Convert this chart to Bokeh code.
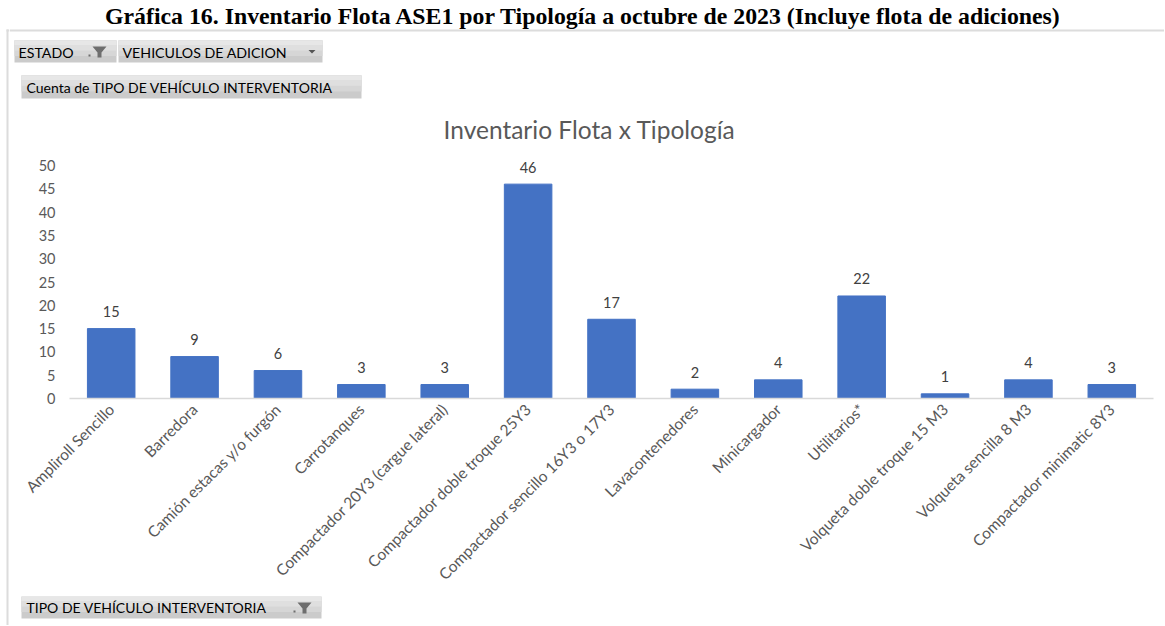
import math
from bokeh.plotting import figure
from bokeh.layouts import row, column
from bokeh.models import (ColumnDataSource, FixedTicker, LabelSet, Range1d, FactorRange)
from bokeh.core.properties import value
from bokeh.embed import file_html
from bokeh.resources import INLINE

# ---- data ----
categories = ["Ampliroll Sencillo", "Barredora", "Camión estacas y/o furgón",
              "Carrotanques", "Compactador 20Y3 (cargue lateral)",
              "Compactador doble troque 25Y3", "Compactador sencillo 16Y3 o 17Y3",
              "Lavacontenedores", "Minicargador", "Utilitarios*",
              "Volqueta doble troque 15 M3", "Volqueta sencilla 8 M3",
              "Compactador minimatic 8Y3"]
counts = [15, 9, 6, 3, 3, 46, 17, 2, 4, 22, 1, 4, 3]
y_ticks = [0, 5, 10, 15, 20, 25, 30, 35, 40, 45, 50]

main_title = "Gráfica 16. Inventario Flota ASE1 por Tipología a octubre de 2023 (Incluye flota de adiciones)"
chart_title = "Inventario Flota x Tipología"
filter1 = "ESTADO"
filter2 = "VEHICULOS DE  ADICION"
value_btn = "Cuenta de TIPO DE VEHÍCULO INTERVENTORIA"
axis_btn = "TIPO DE VEHÍCULO INTERVENTORIA"

# ---- layout geometry (page pixels) ----
LW = 9            # left strip width
RIGHT = 1164      # right edge of page content
TOTAL_H = 625
T_H = 150         # header height
B_H = 29          # footer height
M_H = TOTAL_H - T_H - B_H
FL, FR, FB = 69, 1153, 398    # chart frame left/right/bottom
PX_PER_UNIT = 4.66
BORDER = "#dcdcdc"


def blank(width, height, x0, x1, y0, y1):
    f = figure(width=width, height=height, x_range=Range1d(x0, x1),
               y_range=Range1d(y1, y0), output_backend="svg", toolbar_location=None,
               x_axis_type=None, y_axis_type=None, min_border=0)
    f.frame_align = False
    f.outline_line_color = None
    f.xgrid.visible = False
    f.ygrid.visible = False
    f.background_fill_color = "white"
    f.border_fill_color = "white"
    return f


def button(f, x0, y0, x1, y1):
    h = y1 - y0
    f.quad(left=[x0], right=[x1], top=[y0], bottom=[y1], fill_color="#cbcbcb", line_color=None)
    f.quad(left=[x0], right=[x1], top=[y0], bottom=[y0 + h * 0.7], fill_color="#d6d6d6", line_color=None)
    f.quad(left=[x0], right=[x1], top=[y0], bottom=[y0 + h * 0.45], fill_color="#dfdfdf", line_color=None)
    f.quad(left=[x0], right=[x1], top=[y0], bottom=[y0 + h * 0.2], fill_color="#e7e7e7", line_color=None)


def txt(f, x, y, t, size, color, align="left", font="Lato", style="normal"):
    f.text(x=[x], y=[y], text=[t], text_font=value(font), text_font_size=size,
           text_color=color, text_align=align, text_baseline="middle",
           text_font_style=style)


def funnel(f, cx, cy):
    f.patch(x=[cx - 7, cx + 7, cx + 2, cx + 2, cx - 2, cx - 2],
            y=[cy - 5, cy - 5, cy + 1, cy + 6, cy + 6, cy + 1],
            fill_color="#6e6e6e", line_color=None)
    f.quad(left=[cx - 11], right=[cx - 9], top=[cy + 3], bottom=[cy + 5],
           fill_color="#6e6e6e", line_color=None)


# ---- left strip with frame line ----
L = blank(LW, TOTAL_H, 0, LW, 0, TOTAL_H)
L.quad(left=[6], right=[8], top=[29], bottom=[TOTAL_H], fill_color=BORDER, line_color=None)
L.quad(left=[6], right=[LW], top=[29], bottom=[31], fill_color=BORDER, line_color=None)

# ---- header ----
T = blank(RIGHT - LW, T_H, LW, RIGHT, 0, T_H)
T.quad(left=[LW], right=[RIGHT], top=[29], bottom=[31], fill_color=BORDER, line_color=None)
txt(T, 583, 15, main_title, "23.8px", "#000000", align="center",
    font="Liberation Serif", style="bold")
button(T, 14, 40, 116, 62)
button(T, 118, 40, 322, 62)
txt(T, 18, 51.5, filter1, "14.2px", "#000000")
funnel(T, 99, 51)
txt(T, 122, 51.5, filter2, "14.2px", "#000000")
T.patch(x=[308, 315, 311.5], y=[49.5, 49.5, 53], fill_color="#555555", line_color=None)
button(T, 21, 75, 361, 98)
txt(T, 26, 87, value_btn, "14px", "#000000")
txt(T, 589, 129, chart_title, "24.5px", "#595959", align="center")

# ---- main chart ----
y_end = (FB - T_H) / PX_PER_UNIT
M = figure(width=RIGHT - LW, height=M_H, x_range=FactorRange(*categories, range_padding=0),
           y_range=Range1d(0, y_end), output_backend="svg", toolbar_location=None,
           min_border_left=FL - LW, min_border_right=RIGHT - FR,
           min_border_top=0, min_border_bottom=T_H + M_H - FB)
M.frame_align = False
M.outline_line_color = None
M.background_fill_color = "white"
M.border_fill_color = "white"
M.xgrid.grid_line_color = None
M.ygrid.grid_line_color = None

src = ColumnDataSource(dict(cat=categories, val=counts, lab=[str(v) for v in counts]))
M.vbar(x="cat", top="val", width=0.57, source=src, fill_color="#4472C4",
       line_color="#4472C4")
M.add_layout(LabelSet(x="cat", y="val", text="lab", source=src, y_offset=17,
                      text_align="center", text_baseline="middle",
                      text_font=value("Lato"), text_font_size="14.5px",
                      text_color="#404040"))

M.yaxis.ticker = FixedTicker(ticks=y_ticks)
M.yaxis.axis_line_color = None
M.yaxis.major_tick_line_color = None
M.yaxis.minor_tick_line_color = None
M.yaxis.major_tick_out = 0
M.yaxis.major_label_standoff = 14
M.yaxis.major_label_text_font = "Lato"
M.yaxis.major_label_text_font_size = "14.5px"
M.yaxis.major_label_text_color = "#595959"

M.xaxis.axis_line_color = "#d9d9d9"
M.xaxis.axis_line_width = 1.5
M.xaxis.major_tick_line_color = None
M.xaxis.major_tick_out = 0
M.xaxis.major_label_orientation = math.pi / 4
M.xaxis.major_label_standoff = 8
M.xaxis.major_label_text_font = "Lato"
M.xaxis.major_label_text_font_size = "15.5px"
M.xaxis.major_label_text_color = "#595959"

# ---- footer ----
B = blank(RIGHT - LW, B_H, LW, RIGHT, TOTAL_H - B_H, TOTAL_H)
button(B, 21, 596, 321, 618)
txt(B, 26, 607, axis_btn, "14px", "#000000")
funnel(B, 304, 607)

layout = row(L, column(T, M, B, spacing=0), spacing=0)
open("out.html", "w").write(file_html(layout, INLINE))
